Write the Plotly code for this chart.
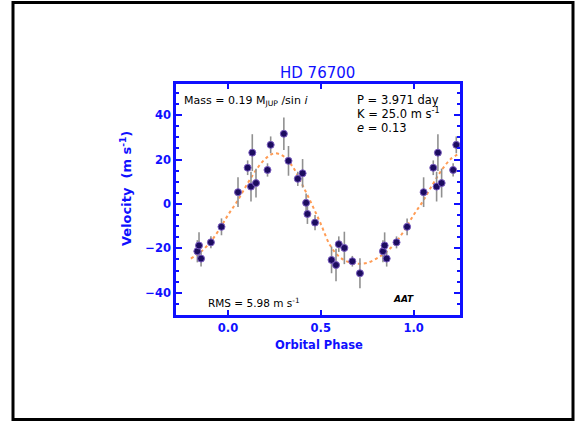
import plotly.graph_objects as go

# ---- data ----
phase = [0.054, 0.106, 0.124, 0.131, 0.151, 0.213, 0.230, 0.301, 0.326, 0.376,
         0.402, 0.421, 0.428, 0.469, 0.558, 0.582, 0.597, 0.627, 0.670, 0.711,
         0.835, 0.844, 0.855, 0.908, 0.965]
velocity = [5.3, 16.3, 7.8, 23.1, 9.4, 15.3, 26.6, 31.6, 19.4, 11.3,
            13.8, 0.5, -4.5, -8.4, -25.2, -27.5, -18.1, -19.8, -25.8, -31.2,
            -21.3, -18.7, -24.6, -17.3, -10.3]
error = [6.7, 3.3, 6.7, 8.3, 6.5, 3.0, 3.8, 7.3, 6.7, 3.2,
         6.4, 4.2, 4.5, 3.4, 6.0, 7.3, 3.5, 7.3, 2.4, 6.8,
         5.0, 5.9, 3.6, 2.7, 3.8]

curve_phase = [0.00, 0.05, 0.10, 0.15, 0.20, 0.25, 0.30, 0.35, 0.40, 0.45,
               0.50, 0.55, 0.60, 0.65, 0.70, 0.75, 0.80, 0.85, 0.90, 0.95]
curve_vel = [-5.0, 1.2, 8.4, 15.1, 20.2, 22.8, 21.4, 16.6, 8.7, 0.15,
             -9.0, -18.6, -23.8, -26.2, -26.9, -26.5, -24.6, -21.8, -17.7, -11.9]

x_range = [-0.28, 1.25]
y_range = [-50, 54]
x_ticks = [0.0, 0.5, 1.0]
x_ticklabels = ["0.0", "0.5", "1.0"]
y_ticks = [-40, -20, 0, 20, 40]

# replicate one cycle across the visible phase window
px, py, pe = [], [], []
for s in (-1, 0, 1):
    for p, v, e in zip(phase, velocity, error):
        if x_range[0] <= p + s <= x_range[1]:
            px.append(p + s); py.append(v); pe.append(e)

cx, cy = [], []
for s in (-1, 0, 1):
    for p, v in zip(curve_phase, curve_vel):
        if -0.2 - 1e-9 <= p + s <= 1.25 + 1e-9:
            cx.append(p + s); cy.append(v)

BLUE = "#1010ff"
FONT = "DejaVu Sans"

fig = go.Figure()
fig.add_trace(go.Scatter(
    x=cx, y=cy, mode="lines",
    line=dict(color="#ff9c55", width=2, dash="3px,3px", shape="spline"),
    showlegend=False))
fig.add_trace(go.Scatter(
    x=px, y=py, mode="markers",
    error_y=dict(type="data", array=pe, visible=True, color="#909090",
                 thickness=1.6, width=0),
    marker=dict(size=7, color="#1c0c60", line=dict(color="#7a5cc0", width=1)),
    showlegend=False, cliponaxis=True))

fig.update_xaxes(range=x_range, tickvals=x_ticks, ticktext=x_ticklabels,
                 ticks="inside", ticklen=5, tickwidth=2, tickcolor=BLUE,
                 showline=True, linecolor=BLUE, linewidth=2.5, mirror="ticks",
                 showgrid=False, zeroline=False,
                 tickfont=dict(family=FONT, size=11.5, color=BLUE, weight="bold"))
fig.update_yaxes(range=y_range, tickvals=y_ticks,
                 ticks="inside", ticklen=6, tickwidth=2, tickcolor=BLUE,
                 minor=dict(dtick=5, ticks="inside", ticklen=3, tickwidth=1.5,
                            tickcolor=BLUE, showgrid=False),
                 showline=True, linecolor=BLUE, linewidth=2.5, mirror="ticks",
                 showgrid=False, zeroline=False,
                 tickfont=dict(family=FONT, size=11.5, color=BLUE, weight="bold"))

L, R, T, B = 176, 460, 84, 315
W, H = 576, 422
def paper_x(p): return (p - L) / (R - L)
def paper_y(p): return (B - p) / (B - T)

fig.add_shape(type="rect", xref="paper", yref="paper",
              x0=paper_x(13), x1=paper_x(573), y0=paper_y(419.5), y1=paper_y(2.5),
              line=dict(color="black", width=3), fillcolor="rgba(0,0,0,0)",
              layer="below")

ann = [
    dict(text="HD 76700", x=paper_x(317), y=paper_y(73), size=15, color=BLUE,
         xanchor="center", weight="normal"),
    dict(text="Orbital Phase", x=paper_x(319), y=paper_y(345), size=11.5, color=BLUE,
         xanchor="center", weight="bold"),
    dict(text="Mass = 0.19 M<sub>JUP</sub> /sin <i>i</i>", x=paper_x(182), y=paper_y(101),
         size=11, color="black", xanchor="left", weight="normal"),
    dict(text="P = 3.971 day", x=paper_x(355), y=paper_y(100), size=11.5, color="black",
         xanchor="left", weight="normal"),
    dict(text="K = 25.0 m s<sup>-1</sup>", x=paper_x(355), y=paper_y(113.5), size=11.5,
         color="black", xanchor="left", weight="normal"),
    dict(text="<i>e</i> = 0.13", x=paper_x(355), y=paper_y(127.5), size=11.5, color="black",
         xanchor="left", weight="normal"),
    dict(text="RMS = 5.98 m s<sup>-1</sup>", x=paper_x(206), y=paper_y(302), size=10.5,
         color="black", xanchor="left", weight="normal"),
    dict(text="<i>AAT</i>", x=paper_x(391), y=paper_y(299), size=9, color="black",
         xanchor="left", weight="bold"),
]
for a in ann:
    fig.add_annotation(text=a["text"], x=a["x"], y=a["y"], xref="paper", yref="paper",
                       xanchor=a["xanchor"], yanchor="middle", showarrow=False,
                       font=dict(family=FONT, size=a["size"], color=a["color"],
                                 weight=a["weight"]))
fig.add_annotation(text="Velocity  (m s<sup>-1</sup>)", x=paper_x(126), y=paper_y(189),
                   xref="paper", yref="paper", textangle=-90, showarrow=False,
                   xanchor="center", yanchor="middle",
                   font=dict(family=FONT, size=13, color=BLUE, weight="bold"))

fig.update_layout(width=W, height=H,
                  margin=dict(l=L, r=W - R, t=T, b=H - B, pad=0),
                  paper_bgcolor="white", plot_bgcolor="white")

fig.write_html("out.html")
